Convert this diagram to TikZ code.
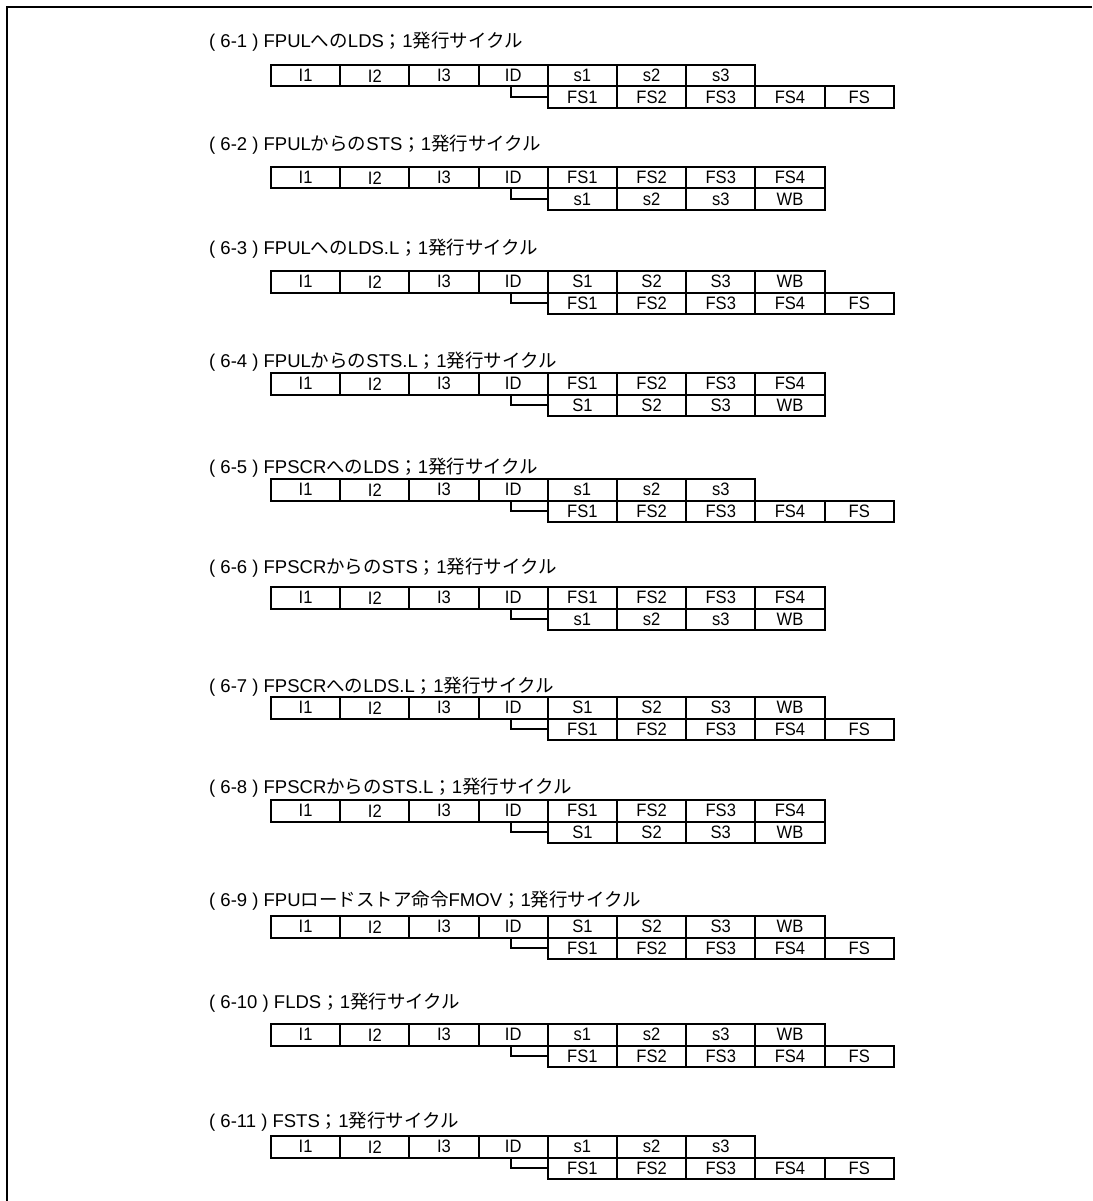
\documentclass[tikz,border=0pt]{standalone}
\usepackage{fontspec}
\setmainfont{Liberation Sans}
\newfontfamily\jpfont{Noto Sans CJK JP}
\newcommand\J[1]{{\jpfont #1}}
\tikzset{
  cell/.style={draw, rectangle, line width=2pt, minimum width=69.2pt, minimum height=21.5pt, inner sep=0pt, font=\fontsize{18}{20}\selectfont},
  titletext/.style={anchor=west, inner sep=0pt, font=\fontsize{18.5}{20}\selectfont},
  conn/.style={line width=2pt},
  frame/.style={line width=2.2pt}
}
\newcommand\pipeline[6]{%
  \node[titletext] (#1t) at (209,#2) {#4};
  \foreach \lab [count=\k from 0] in {#5} {
    \node[cell] (#1a\k) at ({271+69.2*\k+34.6},{#3+10.75}) {\scalebox{0.92}[1]{\lab}};
  }
  \foreach \lab [count=\k from 4] in {#6} {
    \node[cell] (#1b\k) at ({271+69.2*\k+34.6},{#3+32.25}) {\scalebox{0.92}[1]{\lab}};
  }
  \draw[conn] ([xshift=-2pt]#1a3.south) |- (#1b4.west);
}
\begin{document}
\begin{tikzpicture}[x=1pt,y=-1pt]
\useasboundingbox (0,0) rectangle (1092,1201);
\coordinate (fr1) at (1092,7);
\coordinate (fr2) at (7,7);
\coordinate (fr3) at (7,1201);
\draw[frame] (fr1) -- (fr2) -- (fr3);

\pipeline{p1}{42}{65}{( 6-1 ) FPUL\J{への}LDS\J{；}1\J{発行サイクル}}{I1,I2,I3,ID,s1,s2,s3}{FS1,FS2,FS3,FS4,FS}
\pipeline{p2}{145}{167}{( 6-2 ) FPUL\J{からの}STS\J{；}1\J{発行サイクル}}{I1,I2,I3,ID,FS1,FS2,FS3,FS4}{s1,s2,s3,WB}
\pipeline{p3}{249}{271}{( 6-3 ) FPUL\J{への}LDS.L\J{；}1\J{発行サイクル}}{I1,I2,I3,ID,S1,S2,S3,WB}{FS1,FS2,FS3,FS4,FS}
\pipeline{p4}{362}{373}{( 6-4 ) FPUL\J{からの}STS.L\J{；}1\J{発行サイクル}}{I1,I2,I3,ID,FS1,FS2,FS3,FS4}{S1,S2,S3,WB}
\pipeline{p5}{468}{479}{( 6-5 ) FPSCR\J{への}LDS\J{；}1\J{発行サイクル}}{I1,I2,I3,ID,s1,s2,s3}{FS1,FS2,FS3,FS4,FS}
\pipeline{p6}{568}{587}{( 6-6 ) FPSCR\J{からの}STS\J{；}1\J{発行サイクル}}{I1,I2,I3,ID,FS1,FS2,FS3,FS4}{s1,s2,s3,WB}
\pipeline{p7}{687}{697}{( 6-7 ) FPSCR\J{への}LDS.L\J{；}1\J{発行サイクル}}{I1,I2,I3,ID,S1,S2,S3,WB}{FS1,FS2,FS3,FS4,FS}
\pipeline{p8}{788}{800}{( 6-8 ) FPSCR\J{からの}STS.L\J{；}1\J{発行サイクル}}{I1,I2,I3,ID,FS1,FS2,FS3,FS4}{S1,S2,S3,WB}
\pipeline{p9}{901}{916}{( 6-9 ) FPU\J{ロードストア命令}FMOV\J{；}1\J{発行サイクル}}{I1,I2,I3,ID,S1,S2,S3,WB}{FS1,FS2,FS3,FS4,FS}
\pipeline{p10}{1003}{1024}{( 6-10 ) FLDS\J{；}1\J{発行サイクル}}{I1,I2,I3,ID,s1,s2,s3,WB}{FS1,FS2,FS3,FS4,FS}
\pipeline{p11}{1122}{1136}{( 6-11 ) FSTS\J{；}1\J{発行サイクル}}{I1,I2,I3,ID,s1,s2,s3}{FS1,FS2,FS3,FS4,FS}
\end{tikzpicture}
\end{document}
